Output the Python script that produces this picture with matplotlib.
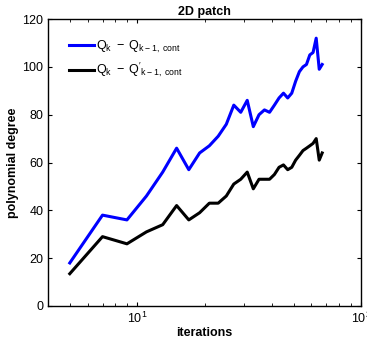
import numpy as np
import matplotlib
matplotlib.use("Agg")
import matplotlib.pyplot as plt

plt.rcParams['font.family'] = ['Liberation Sans', 'DejaVu Sans']
plt.rcParams['mathtext.fontset'] = 'custom'
plt.rcParams['mathtext.rm'] = 'Liberation Sans'
plt.rcParams['mathtext.it'] = 'Liberation Sans:italic'

# iterations (odd numbers 5..67)
iterations = [5, 7, 9, 11, 13, 15, 17, 19, 21, 23, 25, 27, 29, 31, 33, 35,
              37, 39, 41, 43, 45, 47, 49, 51, 53, 55, 57, 59, 61, 63, 65, 67]
deg_cont = [18, 38, 36, 46, 56, 66, 57, 64, 67, 71, 76, 84, 81, 86, 75, 80,
            82, 81, 84, 87, 89, 87, 89, 94, 98, 100, 101, 105, 106, 112, 99, 101]
deg_cont_prime = [13.5, 29, 26, 31, 34, 42, 36, 39, 43, 43, 46, 51, 53, 56, 49, 53,
                  53, 53, 55, 58, 59, 57, 58, 61, 63, 65, 66, 67, 68, 70, 61, 64]

labels = [r'$\mathrm{Q_k\ -\ Q_{k-1,\ cont}}$',
          r"$\mathrm{Q_k\ -\ Q'_{k-1,\ cont}}$"]

fig = plt.figure(figsize=(3.67, 3.40), dpi=100)
ax = fig.add_axes([0.131, 0.10, 0.853, 0.844])

ax.plot(iterations, deg_cont, color='#0000ff', linewidth=2.2, label=labels[0])
ax.plot(iterations, deg_cont_prime, color='black', linewidth=2.2, label=labels[1])

ax.set_xscale('log')
ax.set_xlim(4, 100)
ax.set_ylim(0, 120)
ax.set_yticks(np.arange(0, 121, 20))

ax.tick_params(which='both', direction='in', top=True, right=True, labelsize=9)
ax.tick_params(which='major', length=3)
ax.tick_params(which='minor', length=2)
for s in ax.spines.values():
    s.set_linewidth(1.0)

ax.set_title('2D patch', fontsize=9, fontweight='bold', pad=3)
ax.set_xlabel('iterations', fontsize=9, fontweight='bold', labelpad=1)
ax.set_ylabel('polynomial degree', fontsize=9, fontweight='bold', labelpad=2)

ax.legend(loc='upper left', bbox_to_anchor=(0.03, 0.97), frameon=False,
          fontsize=9, handlelength=2.0, handletextpad=0.2, labelspacing=0.5)

fig.savefig('out.png', dpi=100)
